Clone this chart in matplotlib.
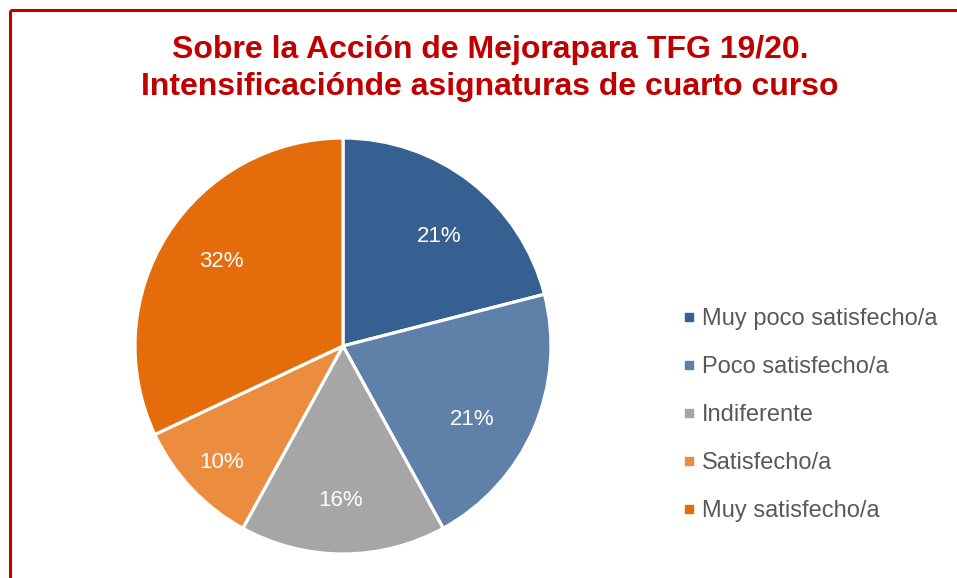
import matplotlib
matplotlib.use("Agg")
import matplotlib.pyplot as plt
from matplotlib.lines import Line2D
import numpy as np

plt.rcParams['font.family'] = ['Liberation Sans', 'DejaVu Sans']

# Porcentaje de respuestas por categoría
categories = ["Muy poco satisfecho/a", "Poco satisfecho/a", "Indiferente",
              "Satisfecho/a", "Muy satisfecho/a"]
percentages = [21, 21, 16, 10, 32]
colors = ["#376092", "#5F80A9", "#A6A6A6", "#EB8C3E", "#E46C0A"]

title_lines = ["Sobre la Acción de Mejorapara TFG 19/20.",
               "Intensificaciónde asignaturas de cuarto curso"]

W, H = 957, 578
fig = plt.figure(figsize=(W / 100, H / 100), dpi=100)

# Marco rojo (superior e izquierdo)
frame = fig.add_axes([0, 0, 1, 1])
frame.set_xlim(0, W)
frame.set_ylim(H, 0)
frame.axis("off")
frame.plot([10, W + 5], [10, 10], color="#C00000", lw=2.2, solid_capstyle="butt")
frame.plot([10, 10], [10, H + 5], color="#C00000", lw=2.2, solid_capstyle="butt")

# Título
fig.text(490 / W, 1 - 50 / H, title_lines[0], ha="center", va="center",
         fontsize=23, fontweight="bold", color="#C00000")
fig.text(490 / W, 1 - 87 / H, title_lines[1], ha="center", va="center",
         fontsize=23, fontweight="bold", color="#C00000")

# Gráfico circular
cx, cy, r = 343, 346, 208
ax = fig.add_axes([(cx - r) / W, 1 - (cy + r) / H, 2 * r / W, 2 * r / H])
wedges, _ = ax.pie(percentages, colors=colors, startangle=90, counterclock=False,
                   wedgeprops=dict(edgecolor="white", linewidth=2.3))
ax.set_xlim(-1, 1)
ax.set_ylim(-1, 1)
ax.set_aspect("auto")

# Posición de las etiquetas: distancia radial y giro (grados) por sector
label_dist = [0.71, 0.71, 0.73, 0.80, 0.72]
label_turn = [-3.0, -5.5, -1.0, 0.0, -3.0]
for w, p, d, t in zip(wedges, percentages, label_dist, label_turn):
    ang = np.deg2rad((w.theta1 + w.theta2) / 2 + t)
    ax.text(d * np.cos(ang), d * np.sin(ang) - 0.012, f"{p}%",
            ha="center", va="center", color="white", fontsize=16)

# Leyenda
handles = [Line2D([0], [0], marker="s", linestyle="none", markersize=5.2,
                  markerfacecolor=col, markeredgecolor=col) for col in colors]
leg = fig.legend(handles, categories, loc="upper left",
                 bbox_to_anchor=(683 / W, 1 - 308 / H), frameon=False,
                 fontsize=17, labelcolor="#595959", handlelength=0.5,
                 handletextpad=0.3, labelspacing=1.1, borderaxespad=0,
                 borderpad=0)

fig.savefig("out.png", dpi=100)
